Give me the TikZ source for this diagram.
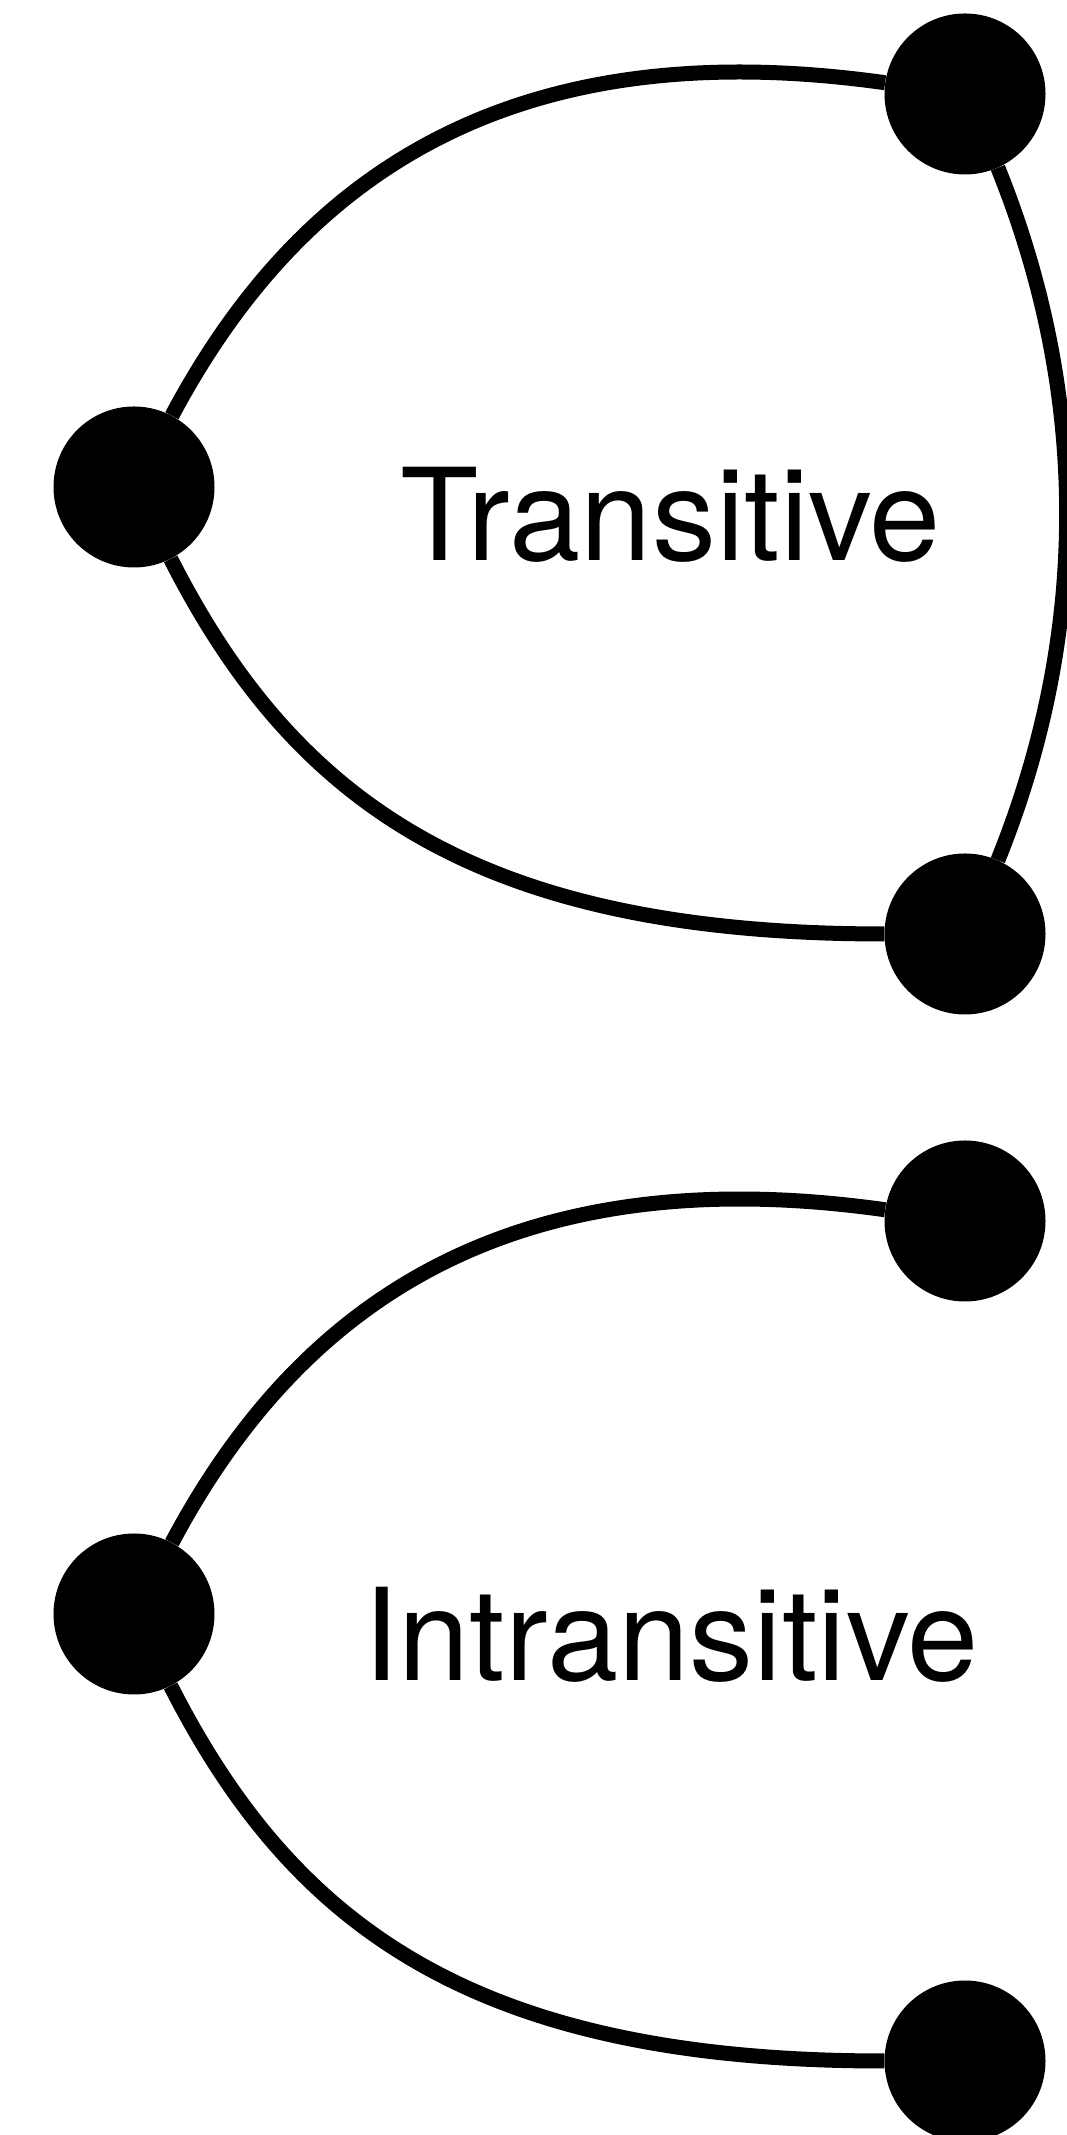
\documentclass[tikz,border=0pt]{standalone}
\usepackage{fontspec}
\setmainfont{TeX Gyre Heros}
\begin{document}
\begin{tikzpicture}[x=1pt,y=1pt,
  vert/.style={circle, fill=black, inner sep=0pt, minimum size=161pt},
  edge/.style={line width=15pt, black},
  lbl/.style={anchor=base, inner sep=0pt, font=\fontsize{128}{150}\selectfont}]
\useasboundingbox (0,0) rectangle (1066,2135);
% group 1
\node[vert] (A1) at (965,2041) {};
\node[vert] (B1) at (134,1648) {};
\node[vert] (C1) at (965,1201) {};
\node[lbl] (T1) at (671,1574) {Transitive};
\draw[edge] (B1) to[out=62, in=172, out distance=280pt, in distance=370pt] (A1);
\draw[edge] (B1) to[out=-63, in=180, out distance=270pt, in distance=410pt] (C1);
\draw[edge] (A1.-66) .. controls +(-68:245) and +(68:245) .. (C1.66);
% group 2
\node[vert] (A2) at (965,914) {};
\node[vert] (B2) at (134,521) {};
\node[vert] (C2) at (965,74) {};
\node[lbl] (T2) at (671,454.5) {Intransitive};
\draw[edge] (B2) to[out=62, in=172, out distance=280pt, in distance=370pt] (A2);
\draw[edge] (B2) to[out=-63, in=180, out distance=270pt, in distance=410pt] (C2);
\end{tikzpicture}
\end{document}
